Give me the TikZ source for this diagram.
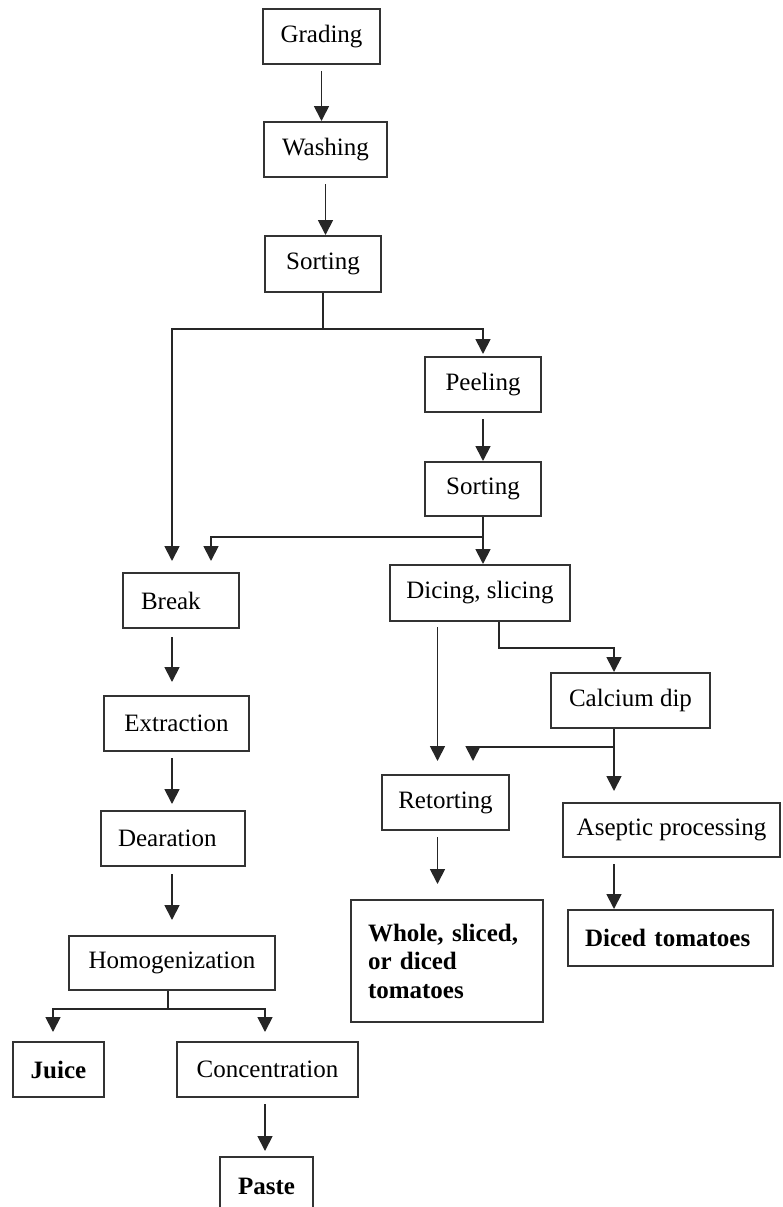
\documentclass[tikz,border=0pt]{standalone}
\usepackage{fontspec}
\setmainfont{Liberation Serif}
\usepackage{tikz}
\usetikzlibrary{arrows.meta}

\tikzset{
  stage/.style={rectangle,draw=black!80,line width=2pt,inner sep=0pt,
    font=\fontsize{25}{28.5}\selectfont},
  result/.style={stage,font=\fontsize{25}{28.5}\selectfont\bfseries},
  line/.style={draw=black!85,line width=1.8pt},
  arr/.style={line,-{Triangle[width=15pt,length=15pt]}},
  gap/.style={shorten <=6pt}
}

\begin{document}
\begin{tikzpicture}[x=1pt,y=-1pt]
\useasboundingbox (0,0) rectangle (782,1207);

% main line
\node at (321.5,36.5) [stage,minimum width=117,minimum height=55] (grading) {Grading};
\node at (325.5,149.5) [stage,minimum width=123,minimum height=55] (washing) {Washing};
\node at (323,264) [stage,minimum width=116,minimum height=56] (sortA) {Sorting};
\node at (483,384.5) [stage,minimum width=116,minimum height=55] (peeling) {Peeling};
\node at (483,489) [stage,minimum width=116,minimum height=54] (sortB) {Sorting};

% juice and paste branch
\node at (181,600.5) [stage,minimum width=116,minimum height=55,align=left,text width=80,inner xsep=18] (brk) {Break};
\node at (176.5,723.5) [stage,minimum width=145,minimum height=55] (extract) {Extraction};
\node at (173,838.5) [stage,minimum width=144,minimum height=55,align=left,text width=110,inner xsep=17] (dear) {Dearation};
\node at (172,963) [stage,minimum width=206,minimum height=54] (homog) {Homogenization};
\node at (58.5,1069.5) [result,minimum width=91,minimum height=55] (juice) {Juice};
\node at (267.5,1069.5) [stage,minimum width=181,minimum height=55] (conc) {Concentration};
\node at (266.5,1186) [result,minimum width=93,minimum height=58] (paste) {Paste};

% canned tomato branch
\node at (480,593) [stage,minimum width=180,minimum height=56] (dicing) {Dicing, slicing};
\node at (630.5,700.5) [stage,minimum width=159,minimum height=55] (calcium) {Calcium dip};
\node at (445.5,802.5) [stage,minimum width=127,minimum height=55] (retort) {Retorting};
\node at (671.5,830) [stage,minimum width=217,minimum height=54] (aseptic) {Aseptic processing};
\node at (447,961) [result,minimum width=192,minimum height=122,align=left,text width=158,inner xsep=17] (whole) {Whole, sliced,\\or diced\\tomatoes};
\node at (670.5,938) [result,minimum width=205,minimum height=56,align=left,text width=171,inner xsep=17] (diced) {Diced tomatoes};

\draw [arr,gap] (grading.south) -- (grading.south |- washing.north);
\draw [arr,gap] (washing.south) -- (washing.south |- sortA.north);

\coordinate (fork1) at ([yshift=-36pt]sortA.south);
\draw [line] (sortA.south) -- (fork1);
\draw [arr,shorten >=11pt] (fork1) -| ([xshift=-9pt]brk.north);
\draw [arr,shorten >=2pt] (fork1) -| (peeling.north);
\draw [arr,gap] (peeling.south) -- (sortB.north);

\coordinate (fork2) at ([yshift=-20pt]sortB.south);
\draw [line] (sortB.south) -- (fork2);
\draw [arr] (fork2) -- (fork2 |- dicing.north);
\draw [arr,shorten >=11pt] (fork2) -| ([xshift=30pt]brk.north);

\coordinate (lane) at (172,0);
\draw [arr,shorten <=8pt,shorten >=13pt] (lane |- brk.south) -- (lane |- extract.north);
\draw [arr,gap,shorten >=6pt] (lane |- extract.south) -- (lane |- dear.north);
\draw [arr,shorten <=7pt,shorten >=15pt] (lane |- dear.south) -- (lane |- homog.north);

\coordinate (fork4) at ([xshift=-4pt,yshift=-18pt]homog.south);
\draw [line] ([xshift=-4pt]homog.south) -- (fork4);
\draw [arr,shorten >=9pt] (fork4) -| ([xshift=-5.5pt]juice.north);
\draw [arr,shorten >=9pt] (fork4) -| ([xshift=-2.5pt]conc.north);
\draw [arr,gap,shorten >=5pt] ([xshift=-2.5pt]conc.south) -- ([xshift=-2.5pt]conc.south |- paste.north);

\draw [arr,shorten <=5pt,shorten >=13pt] ([xshift=-8pt]retort.north |- dicing.south) -- ([xshift=-8pt]retort.north);
\draw [arr] ([xshift=19pt]dicing.south) -- ++(0,26) -| ([xshift=-16.5pt]calcium.north);

\coordinate (fork3) at ([xshift=-16.5pt,yshift=-18pt]calcium.south);
\draw [line] ([xshift=-16.5pt]calcium.south) -- (fork3);
\draw [arr,shorten >=13pt] (fork3) -| ([xshift=27.5pt]retort.north);
\draw [arr,shorten >=11pt] (fork3) -- (fork3 |- aseptic.north);
\draw [arr,gap,shorten >=15pt] ([xshift=-8pt]retort.south) -- ([xshift=-8pt]retort.south |- whole.north);
\draw [arr,gap] (fork3 |- aseptic.south) -- (fork3 |- diced.north);
\end{tikzpicture}
\end{document}
